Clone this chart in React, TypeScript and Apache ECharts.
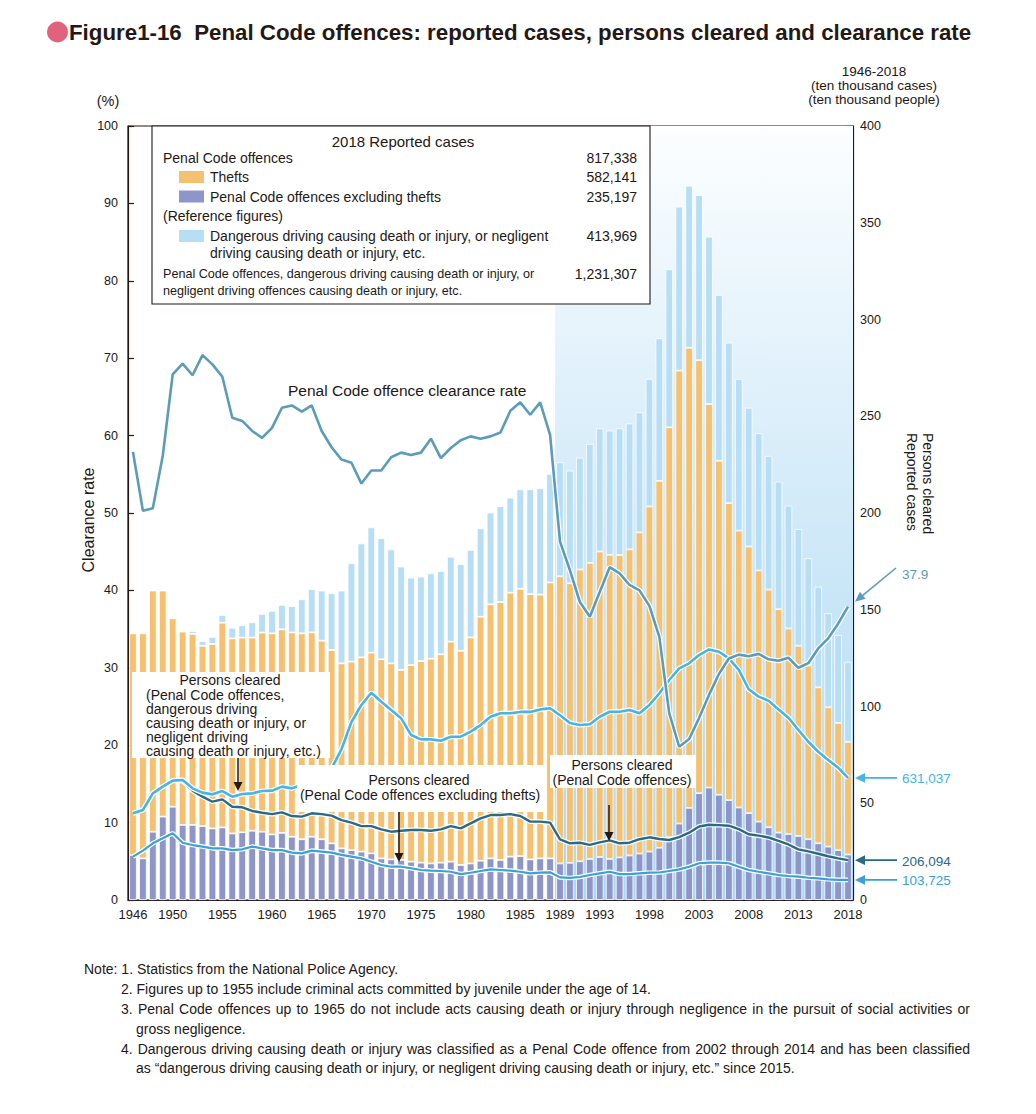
import React, { useEffect, useRef } from "react";
import * as echarts from "echarts";

// ---------- data (values in ten thousands, rates in %) ----------
const years: string[] = [];
for (let y = 1946; y <= 2018; y++) years.push(String(y));

const tickYears = ["1946", "1950", "1955", "1960", "1965", "1970", "1975", "1980", "1985", "1989", "1993", "1998", "2003", "2008", "2013", "2018"];

// top of stacked bar: penal code + dangerous/negligent driving
const totalCases = [
  137.8, 137.8, 159.9, 159.9, 145.6, 138.7, 139.0, 133.8, 136.0, 147.3,
  140.7, 142.0, 143.5, 147.8, 149.4, 152.5, 151.9, 155.4, 160.6, 159.9,
  158.5, 159.9, 174.0, 184.3, 192.6, 186.9, 181.2, 172.3, 166.6, 167.1,
  168.8, 170.0, 177.4, 173.5, 180.9, 192.1, 200.2, 203.6, 207.9, 212.2,
  212.2, 212.8, 220.2, 226.2, 221.9, 228.6, 235.7, 243.8, 242.6, 243.8,
  246.3, 252.0, 269.3, 290.3, 325.9, 358.3, 369.1, 364.3, 342.8, 312.7,
  288.0, 269.3, 254.4, 241.2, 229.5, 216.2, 203.8, 191.7, 176.6, 161.9,
  148.2, 137.0, 123.1,
];
// penal code offences reported (thefts + non-thefts)
const penalCases = [
  137.8, 137.8, 159.9, 159.9, 145.6, 138.7, 137.5, 131.4, 132.3, 143.3,
  135.2, 135.6, 135.6, 138.2, 137.8, 139.9, 138.3, 137.8, 138.3, 134.0,
  129.2, 122.3, 123.2, 125.4, 127.8, 124.4, 122.3, 118.9, 121.4, 123.5,
  124.7, 127.0, 133.5, 128.8, 135.7, 146.4, 152.8, 154.0, 158.8, 160.8,
  158.1, 157.8, 164.1, 167.3, 163.7, 170.8, 174.2, 180.1, 178.4, 178.3,
  181.2, 190.0, 203.4, 216.6, 244.3, 273.6, 285.4, 279.0, 256.3, 227.0,
  205.1, 190.9, 182.7, 170.3, 160.4, 150.3, 140.3, 131.4, 121.2, 109.9,
  99.6, 91.5, 81.7,
];
// penal code offences excluding thefts
const nonTheftCases = [
  23.3, 21.5, 35.3, 43.1, 48.2, 38.8, 38.8, 38.2, 37.0, 37.5,
  34.4, 35.0, 35.8, 35.3, 33.9, 34.7, 32.7, 31.4, 32.7, 31.4,
  29.3, 26.7, 25.8, 25.0, 24.1, 21.5, 21.0, 20.7, 19.8, 19.3,
  18.9, 19.3, 19.8, 18.1, 18.9, 20.3, 21.5, 20.7, 22.4, 22.7,
  21.0, 21.5, 21.5, 18.9, 19.2, 20.0, 21.2, 22.2, 21.2, 22.0,
  23.0, 24.0, 25.0, 27.0, 32.5, 39.5, 47.6, 55.2, 58.1, 54.4,
  51.6, 47.8, 44.9, 40.5, 37.6, 34.8, 34.1, 33.1, 31.4, 29.3,
  27.6, 25.8, 23.5,
];
// clearance rate (%)
const clearanceRate = [
  57.9, 50.3, 50.6, 57.4, 67.9, 69.3, 67.8, 70.4, 69.2, 67.6,
  62.3, 61.9, 60.6, 59.7, 61.0, 63.6, 63.9, 63.1, 63.9, 60.6,
  58.5, 56.9, 56.5, 53.8, 55.5, 55.5, 57.2, 57.8, 57.5, 57.8,
  59.6, 57.1, 58.4, 59.4, 59.9, 59.6, 59.9, 60.4, 63.2, 64.3,
  62.7, 64.3, 60.1, 46.3, 42.6, 38.5, 36.6, 39.8, 43.0, 42.2,
  40.7, 40.0, 38.0, 34.0, 24.1, 19.8, 20.8, 23.5, 26.5, 29.2,
  31.2, 31.7, 31.5, 31.8, 31.1, 30.9, 31.3, 30.0, 30.6, 32.5,
  33.8, 35.7, 37.9,
];
// persons cleared: penal code + dangerous/negligent driving
const personsTotal = [
  44.8, 46.5, 55.1, 58.6, 61.7, 62.0, 57.7, 55.5, 54.6, 56.3,
  53.4, 54.8, 55.1, 56.3, 56.5, 58.6, 57.7, 59.5, 62.0, 65.0,
  68.0, 78.0, 92.0, 100.8, 107.1, 102.5, 98.2, 93.9, 85.3, 83.0,
  83.0, 82.3, 84.4, 84.4, 87.0, 90.4, 94.7, 96.5, 96.5, 97.2,
  97.2, 98.5, 99.1, 95.5, 91.5, 90.4, 90.8, 94.7, 97.3, 97.3,
  98.2, 96.5, 100.8, 106.8, 113.7, 119.7, 122.3, 126.6, 129.5, 128.3,
  124.9, 118.9, 108.9, 105.1, 103.0, 98.5, 94.2, 87.9, 81.8, 76.6,
  72.4, 68.4, 63.1,
];
// persons cleared: penal code offences
const personsPenal = [
  44.8, 46.5, 55.1, 58.6, 61.7, 61.5, 56.5, 53.4, 50.8, 52.0,
  48.2, 47.9, 46.0, 45.1, 44.4, 45.3, 43.4, 43.1, 44.8, 44.4,
  43.6, 41.3, 40.0, 38.2, 38.2, 36.5, 35.3, 35.8, 36.2, 36.2,
  35.8, 36.5, 38.2, 37.0, 39.6, 42.2, 43.9, 43.9, 44.4, 43.4,
  40.5, 40.5, 40.0, 31.3, 29.3, 29.6, 28.5, 29.8, 30.8, 29.3,
  29.6, 31.4, 32.4, 31.5, 31.0, 32.5, 34.8, 38.0, 38.9, 38.7,
  38.4, 36.6, 34.0, 33.3, 32.3, 30.6, 28.7, 26.2, 25.1, 23.9,
  22.6, 21.5, 20.6,
];
// persons cleared: penal code offences excluding thefts
const personsNonTheft = [
  22.4, 25.5, 29.3, 31.9, 34.5, 29.6, 28.4, 27.6, 26.7, 26.7,
  25.8, 26.2, 27.6, 26.7, 25.8, 25.8, 24.5, 24.1, 25.5, 25.0,
  24.5, 23.3, 22.4, 21.5, 19.8, 18.1, 17.2, 17.2, 16.4, 15.5,
  15.2, 15.0, 14.6, 13.4, 14.1, 15.0, 15.8, 15.5, 15.2, 14.6,
  13.8, 14.1, 14.3, 11.7, 11.4, 11.9, 12.9, 13.8, 14.6, 13.4,
  13.4, 13.8, 14.1, 14.2, 15.0, 15.8, 17.2, 19.0, 19.3, 19.3,
  19.0, 17.2, 15.5, 14.6, 13.8, 12.9, 12.4, 12.1, 11.5, 11.2,
  10.7, 10.4, 10.4,
];

const last2018 = { rate: "37.9", total: "631,037", penal: "206,094", nonTheft: "103,725" };

// ---------- styling ----------
const W = 1036;
const H = 1114;
const FONT = "'Liberation Sans', Arial, Helvetica, sans-serif";
const INK = "#231815";
const C_PURPLE = "#8e95c9";
const C_ORANGE = "#f6c071";
const C_LBLUE = "#b8def5";
const C_RATE = "#5a9cba";
const C_TOTAL = "#45b4e6";
const C_PENAL = "#2a6a87";
const C_NONTHEFT = "#3aa2d4";

function txt(text: string, x: number, y: number, o: any = {}) {
  const align = o.align || "left";
  const va = o.va || "middle";
  return {
    type: "text",
    x,
    y,
    z: o.z ?? 110,
    rotation: o.rotation || 0,
    style: {
      text,
      fontSize: o.size || 14,
      fontFamily: o.family || FONT,
      fontWeight: o.weight || "normal",
      fill: o.color || INK,
      align,
      verticalAlign: va,
      textAlign: align,
      textVerticalAlign: va,
    },
  };
}

// a line of text spread word by word between x0 and x1 (justified)
function justified(text: string, x0: number, x1: number, y: number, size: number) {
  const words = text.split(" ");
  const font = `${size}px ${FONT}`;
  const widths = words.map((w) => echarts.format.getTextRect(w, font).width);
  const sum = widths.reduce((a, b) => a + b, 0);
  const gap = (x1 - x0 - sum) / (words.length - 1);
  const out: any[] = [];
  let x = x0;
  words.forEach((w, i) => {
    out.push(txt(w, x, y, { size }));
    x += widths[i] + gap;
  });
  return out;
}

function arrow(x1: number, y1: number, x2: number, y2: number, color: string, lw = 1.6, hl = 9, hw = 4.5) {
  const dx = x2 - x1;
  const dy = y2 - y1;
  const len = Math.hypot(dx, dy);
  const ux = dx / len;
  const uy = dy / len;
  const bx = x2 - ux * hl;
  const by = y2 - uy * hl;
  const px = -uy;
  const py = ux;
  return [
    { type: "line", z: 112, shape: { x1, y1, x2: bx, y2: by }, style: { stroke: color, lineWidth: lw } },
    {
      type: "polygon",
      z: 112,
      shape: { points: [[x2, y2], [bx + px * hw, by + py * hw], [bx - px * hw, by - py * hw]] },
      style: { fill: color },
    },
  ];
}

function lineWithOutline(name: string, data: number[], color: string, width: number, yAxisIndex: number, z: number) {
  const base = { type: "line", yAxisIndex, data, symbol: "none", showSymbol: false, silent: true, animation: false };
  return [
    { ...base, name: name + "-outline", z, lineStyle: { color: "#ffffff", width: width + 2.4 } },
    { ...base, name, z: z + 1, lineStyle: { color, width } },
  ];
}

export default function App() {
  const ref = useRef<HTMLDivElement>(null);

  useEffect(() => {
    if (!ref.current) return;
    const chart = echarts.init(ref.current, null, { renderer: "svg", width: W, height: H });

    const thefts = penalCases.map((p, i) => +(p - nonTheftCases[i]).toFixed(1));
    const traffic = totalCases.map((t, i) => {
      const d = +(t - penalCases[i]).toFixed(1);
      return d > 0 ? d : null;
    });

    const barCommon = { type: "bar", stack: "cases", yAxisIndex: 1, barWidth: 7.6, z: 2, silent: true };
    const series: any[] = [
      { ...barCommon, name: "nonTheft", data: nonTheftCases, itemStyle: { color: C_PURPLE, borderColor: "#fff", borderWidth: 0.8 } },
      { ...barCommon, name: "thefts", data: thefts, itemStyle: { color: C_ORANGE, borderColor: "#fff", borderWidth: 0.8 } },
      { ...barCommon, name: "traffic", data: traffic, itemStyle: { color: C_LBLUE, borderColor: "#fff", borderWidth: 0.8 } },
      ...lineWithOutline("personsNonTheft", personsNonTheft, C_NONTHEFT, 2.2, 1, 3),
      ...lineWithOutline("personsPenal", personsPenal, C_PENAL, 2.4, 1, 5),
      ...lineWithOutline("personsTotal", personsTotal, C_TOTAL, 2.6, 1, 7),
      ...lineWithOutline("clearanceRate", clearanceRate, C_RATE, 2.6, 0, 9),
    ];

    const axisLabel = { color: INK, fontSize: 12.5, fontFamily: FONT };
    const option: any = {
      animation: false,
      backgroundColor: "#ffffff",
      grid: { left: 128, right: 183, top: 126, bottom: 214, show: true, borderColor: INK, borderWidth: 1.2, backgroundColor: "transparent", containLabel: false },
      xAxis: {
        type: "category",
        data: years,
        boundaryGap: true,
        axisLine: { show: true, lineStyle: { color: INK, width: 1.2 } },
        axisTick: { show: false },
        axisLabel: { ...axisLabel, fontSize: 13, margin: 8, interval: (_i: number, v: string) => tickYears.includes(v) },
        splitLine: { show: false },
      },
      yAxis: [
        {
          type: "value", min: 0, max: 100, interval: 10, position: "left",
          axisLine: { show: true, lineStyle: { color: INK, width: 1.2 } },
          axisTick: { show: true, inside: true, length: 6, lineStyle: { color: INK, width: 1.2 } },
          axisLabel: { ...axisLabel, margin: 10 },
          splitLine: { show: false },
        },
        {
          type: "value", min: 0, max: 400, interval: 50, position: "right",
          axisLine: { show: true, lineStyle: { color: INK, width: 1.2 } },
          axisTick: { show: true, inside: true, length: 6, lineStyle: { color: INK, width: 1.2 } },
          axisLabel: { ...axisLabel, margin: 7 },
          splitLine: { show: false },
        },
      ],
      series,
    };
    chart.setOption(option);

    // positions derived from the chart's own scales
    const xc = (cat: string) => chart.convertToPixel({ xAxisIndex: 0 }, cat) as number;
    const band = xc("1990") - xc("1989");
    const bgLeft = xc("1989") - band / 2;
    const bgRight = xc("2018") + band / 2;
    const yTop = chart.convertToPixel({ yAxisIndex: 1 }, 400) as number;
    const yBottom = chart.convertToPixel({ yAxisIndex: 1 }, 0) as number;
    const yR = (v: number) => chart.convertToPixel({ yAxisIndex: 1 }, v) as number;
    const yL = (v: number) => chart.convertToPixel({ yAxisIndex: 0 }, v) as number;
    const axisR = bgRight;

    const n = years.length - 1;
    const yRate = yL(clearanceRate[n]);
    const yTot = yR(personsTotal[n]);
    const yPen = yR(personsPenal[n]);
    const yNon = yR(personsNonTheft[n]);

    const el: any[] = [];
    // shaded background from 1989
    el.push({
      type: "rect",
      z: 1,
      shape: { x: bgLeft, y: yTop, width: bgRight - bgLeft, height: yBottom - yTop },
      style: {
        fill: {
          type: "linear", x: 0, y: 0, x2: 0, y2: 1,
          colorStops: [
            { offset: 0, color: "#fcfeff" },
            { offset: 0.45, color: "#d6ecf9" },
            { offset: 1, color: "#a9d8f3" },
          ],
        },
      },
    });

    // title
    el.push({ type: "circle", z: 110, shape: { cx: 57.5, cy: 32, r: 10.5 }, style: { fill: "#e0627f" } });
    el.push(txt("Figure1-16  Penal Code offences: reported cases, persons cleared and clearance rate", 69, 32, { size: 22.3, weight: "bold", family: "'Liberation Sans Narrow', 'Liberation Sans', Arial, sans-serif" }));

    // axis captions
    el.push(txt("(%)", 108, 101, { align: "center", size: 14.5 }));
    el.push(txt("Clearance rate", 88, 520, { align: "center", size: 16, rotation: Math.PI / 2 }));
    el.push(txt("1946-2018", 874, 71, { align: "center", size: 13.5 }));
    el.push(txt("(ten thousand cases)", 874, 85.5, { align: "center", size: 13.5 }));
    el.push(txt("(ten thousand people)", 874, 99.5, { align: "center", size: 13.5 }));
    el.push(txt("Persons cleared", 928, 433, { align: "left", size: 14, rotation: -Math.PI / 2 }));
    el.push(txt("Reported cases", 912, 433, { align: "left", size: 14, rotation: -Math.PI / 2 }));

    // legend box
    el.push({ type: "rect", z: 100, shape: { x: 152, y: 126, width: 498, height: 178 }, style: { fill: "#ffffff", stroke: INK, lineWidth: 1.1 } });
    el.push(txt("2018 Reported cases", 403, 141, { align: "center", size: 15 }));
    el.push(txt("Penal Code offences", 163, 158, { size: 14 }));
    el.push(txt("817,338", 637, 158, { size: 14, align: "right" }));
    el.push({ type: "rect", z: 110, shape: { x: 179, y: 171, width: 25, height: 12 }, style: { fill: C_ORANGE } });
    el.push(txt("Thefts", 210, 177, { size: 14 }));
    el.push(txt("582,141", 637, 177, { size: 14, align: "right" }));
    el.push({ type: "rect", z: 110, shape: { x: 179, y: 190.5, width: 25, height: 12 }, style: { fill: C_PURPLE } });
    el.push(txt("Penal Code offences excluding thefts", 210, 196.5, { size: 14 }));
    el.push(txt("235,197", 637, 196.5, { size: 14, align: "right" }));
    el.push(txt("(Reference figures)", 163, 216, { size: 14 }));
    el.push({ type: "rect", z: 110, shape: { x: 179, y: 230, width: 25, height: 12 }, style: { fill: C_LBLUE } });
    el.push(txt("Dangerous driving causing death or injury, or negligent", 210, 236, { size: 14 }));
    el.push(txt("driving causing death or injury, etc.", 210, 253, { size: 14 }));
    el.push(txt("413,969", 637, 236, { size: 14, align: "right" }));
    el.push(txt("Penal Code offences, dangerous driving causing death or injury, or", 163, 274, { size: 12.6 }));
    el.push(txt("negligent driving offences causing death or injury, etc.", 163, 291, { size: 12.6 }));
    el.push(txt("1,231,307", 637, 274, { size: 14, align: "right" }));

    // clearance rate label
    el.push(txt("Penal Code offence clearance rate", 288, 390, { size: 15.5 }));

    // annotation boxes
    el.push({ type: "rect", z: 100, shape: { x: 132, y: 672, width: 198, height: 86 }, style: { fill: "#ffffff" } });
    el.push(txt("Persons cleared", 230, 680, { align: "center", size: 14 }));
    el.push(txt("(Penal Code offences,", 146, 694.5, { size: 14 }));
    el.push(txt("dangerous driving", 146, 708.5, { size: 14 }));
    el.push(txt("causing death or injury, or", 146, 722.5, { size: 14 }));
    el.push(txt("negligent driving", 146, 736.5, { size: 14 }));
    el.push(txt("causing death or injury, etc.)", 146, 750.5, { size: 14 }));
    el.push(...arrow(238, 758, 238, 791, INK, 1.5, 9, 4.5));

    el.push({ type: "rect", z: 100, shape: { x: 297, y: 765, width: 247, height: 47 }, style: { fill: "#ffffff" } });
    el.push(txt("Persons cleared", 419, 780, { align: "center", size: 14 }));
    el.push(txt("(Penal Code offences excluding thefts)", 420, 795, { align: "center", size: 14 }));
    el.push(...arrow(399, 812, 399, 862, INK, 1.5, 9, 4.5));

    el.push({ type: "rect", z: 100, shape: { x: 550, y: 755, width: 146, height: 33 }, style: { fill: "#ffffff" } });
    el.push(txt("Persons cleared", 622, 765, { align: "center", size: 14 }));
    el.push(txt("(Penal Code offences)", 622, 779.5, { align: "center", size: 14 }));
    el.push(...arrow(609, 805, 609, 841, INK, 1.5, 9, 4.5));

    // right-hand 2018 value callouts
    el.push(...arrow(896, 568, axisR + 2, yRate - 5, C_RATE, 1.6, 10, 4.5));
    el.push(txt(last2018.rate, 902, 574, { size: 13.5, color: C_RATE }));
    el.push(...arrow(897, yTot, axisR + 2, yTot, C_TOTAL, 1.8, 10, 4.8));
    el.push(txt(last2018.total, 902, yTot + 1, { size: 13.5, color: C_TOTAL }));
    el.push(...arrow(897, yPen, axisR + 2, yPen, C_PENAL, 1.8, 10, 4.8));
    el.push(txt(last2018.penal, 902, yPen + 1, { size: 13.5, color: C_PENAL }));
    el.push(...arrow(897, yNon, axisR + 2, yNon, C_NONTHEFT, 1.8, 10, 4.8));
    el.push(txt(last2018.nonTheft, 902, yNon + 1, { size: 13.5, color: C_NONTHEFT }));

    // notes
    const NS = 14;
    el.push(txt("Note: 1. Statistics from the National Police Agency.", 84, 969, { size: NS }));
    el.push(txt("2. Figures up to 1955 include criminal acts committed by juvenile under the age of 14.", 121, 989, { size: NS }));
    el.push(...justified("3. Penal Code offences up to 1965 do not include acts causing death or injury through negligence in the pursuit of social activities or", 121, 970, 1009, NS));
    el.push(txt("gross negligence.", 136, 1028.5, { size: NS }));
    el.push(...justified("4. Dangerous driving causing death or injury was classified as a Penal Code offence from 2002 through 2014 and has been classified", 121, 970, 1049, NS));
    el.push(txt("as \u201cdangerous driving causing death or injury, or negligent driving causing death or injury, etc.\u201d since 2015.", 136, 1068, { size: NS }));

    chart.setOption({ graphic: el });

    return () => {
      chart.dispose();
    };
  }, []);

  return (
    <div
      ref={ref}
      style={{ position: "absolute", left: 0, top: 0, width: W, height: H, background: "#ffffff" }}
    />
  );
}
